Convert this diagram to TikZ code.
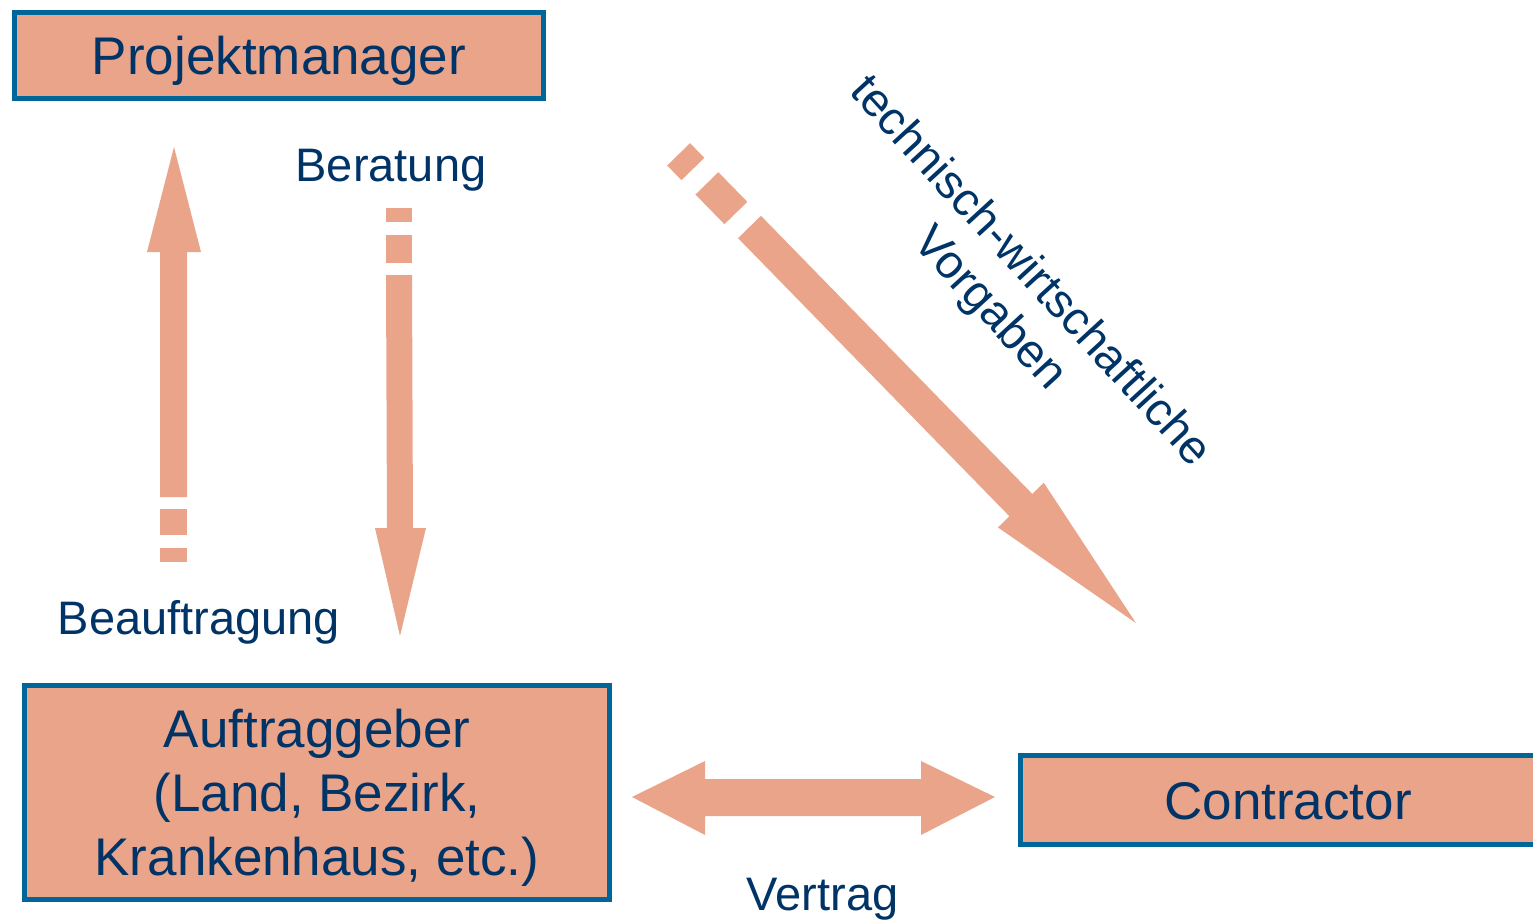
\documentclass[tikz,border=0pt]{standalone}
\usepackage{fontspec}
\setmainfont{Liberation Sans}
\definecolor{boxfill}{HTML}{E9A48A}
\definecolor{boxline}{HTML}{006699}
\definecolor{txt}{HTML}{003366}
\begin{document}
\begin{tikzpicture}[x=0.5pt,y=-0.5pt,
  box/.style={draw=boxline,line width=2.5pt,fill=boxfill,text=txt,inner sep=0pt,
    font=\fontsize{26.5}{32}\selectfont},
  lbl/.style={text=txt,inner sep=0pt,font=\fontsize{23.5}{25.5}\selectfont},
  blk/.style={fill=boxfill,draw=none}]
\useasboundingbox (0,0) rectangle (1533,920);
% boxes
\node[box,minimum width=264.5pt,minimum height=43pt,text height=19pt,text depth=0pt]
  (pm) at (279,55.5) {Projektmanager};
\node[box,minimum width=292.5pt,minimum height=107pt,align=center,text height=83pt,text depth=0pt]
  (ag) at (317,792.5) {Auftraggeber\\(Land, Bezirk,\\Krankenhaus, etc.)};
\node[box,minimum width=267.5pt,minimum height=44.5pt,text height=19pt,text depth=0pt]
  (ct) at (1288,800) {Contractor};
% labels
\node[lbl,anchor=base] (beauf) at (199,634) {Beauftragung};
\node[lbl,anchor=base] (berat) at (391,182) {Beratung};
\node[lbl,anchor=base] (vert) at (822.5,910) {Vertrag};
\node[lbl,align=center,rotate=-47.5,font=\fontsize{23.5}{27.5}\selectfont] (tw) at (1009,291) {technisch-wirtschaftliche\\Vorgaben};
% Beauftragung arrow (up)
\fill[blk] (160,497)--(160,252)--(147,252)--(174,147)--(201,252)--(187,252)--(187,497)--cycle;
\fill[blk] (160,509) rectangle (187,535);
\fill[blk] (160,548) rectangle (187,562);
% Beratung arrow (down)
\fill[blk] (386,275)--(387,528)--(375,528)--(400,636)--(426,528)--(413,528)--(412,275)--cycle;
\fill[blk] (386,208) rectangle (412,222);
\fill[blk] (386,235) rectangle (412,263);
% diagonal arrow
\begin{scope}[shift={(749.5,227)},rotate=-45.7]
  \fill[blk] (0,-16)--(388.6,-16)--(388.6,-32)--(553.4,0)--(388.6,32)--(388.6,16)--(0,16)--cycle;
  \fill[blk] (-61,-16) rectangle (-19.5,16);
  \fill[blk] (-101.5,-16) rectangle (-81,16);
\end{scope}
% Vertrag double arrow
\fill[blk] (632,797)--(705,761)--(705,779)--(921,779)--(921,761)--(995,797)--(921,835)--(921,816)--(705,816)--(705,835)--cycle;
\end{tikzpicture}
\end{document}
